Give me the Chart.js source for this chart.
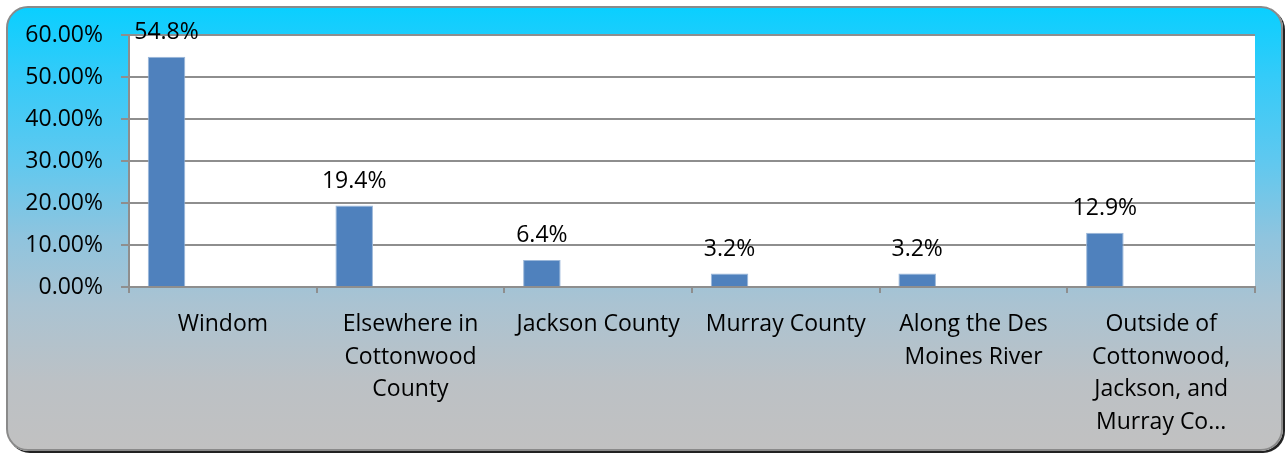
<!DOCTYPE html>
<html>
<head>
<meta charset="utf-8">
<script src="https://cdn.jsdelivr.net/npm/chart.js@4/dist/chart.umd.min.js"></script>
<style>
  html, body { margin: 0; padding: 0; background: #ffffff; }
  #wrap { position: relative; width: 1287px; height: 453px; overflow: hidden; }
  #frame {
    position: absolute; left: 6px; top: 6px; width: 1273px; height: 441px;
    border: 2px solid #8a8a8a; border-radius: 22px;
    background: linear-gradient(to bottom, #0acfff 0%, #33cbf9 15%, #60c8ef 35%, #8fc4de 52%, #aac3d2 67%, #bcc1c5 85%, #c1c1c1 100%);
    box-shadow: 2px 2px 0 #222;
  }
  #chart { position: absolute; left: 0; top: 0; }
</style>
</head>
<body>
<div id="wrap">
  <div id="frame"></div>
  <canvas id="chart" width="1287" height="453"></canvas>
</div>
<script>
// Where respondents live (share of responses)
const categories = [
  ["Windom"],
  ["Elsewhere in", "Cottonwood", "County"],
  ["Jackson County"],
  ["Murray County"],
  ["Along the Des", "Moines River"],
  ["Outside of", "Cottonwood,", "Jackson, and", "Murray Co..."]
];
const shares = [54.8, 19.4, 6.4, 3.2, 3.2, 12.9];
// The workbook's series group holds three further columns with no entries
const emptyColumns = [
  [null, null, null, null, null, null],
  [null, null, null, null, null, null],
  [null, null, null, null, null, null]
];
const yTicks = [0, 10, 20, 30, 40, 50, 60];

const FONT = "'Open Sans', 'Liberation Sans', sans-serif";
const GRID = '#8e8e8e';

const plotBackground = {
  id: 'plotBackground',
  beforeDraw(chart) {
    const { ctx, chartArea: a } = chart;
    ctx.save();
    ctx.fillStyle = '#ffffff';
    ctx.fillRect(a.left, a.top, a.right - a.left, a.bottom - a.top);
    ctx.restore();
  }
};

const valueLabels = {
  id: 'valueLabels',
  afterDatasetsDraw(chart) {
    const { ctx } = chart;
    const meta = chart.getDatasetMeta(0);
    ctx.save();
    ctx.font = '23px ' + FONT;
    ctx.fillStyle = '#000000';
    ctx.textAlign = 'center';
    ctx.textBaseline = 'alphabetic';
    meta.data.forEach((bar, i) => {
      ctx.fillText(shares[i].toFixed(1) + '%', bar.x, bar.y - 18);
    });
    ctx.restore();
  }
};

const datasets = [{
  data: shares,
  backgroundColor: '#4f81bd',
  borderColor: '#9bb7d9',
  borderWidth: 1,
  borderSkipped: 'bottom'
}].concat(emptyColumns.map(col => ({ data: col, backgroundColor: '#4f81bd' })));

new Chart(document.getElementById('chart'), {
  type: 'bar',
  data: { labels: categories, datasets },
  options: {
    responsive: false,
    animation: false,
    layout: { padding: { left: 0, right: 32, top: 35, bottom: 0 } },
    datasets: { bar: { categoryPercentage: 0.8, barPercentage: 1.0 } },
    plugins: { legend: { display: false }, tooltip: { enabled: false } },
    scales: {
      x: {
        grid: { display: true, drawOnChartArea: false, drawTicks: true, tickLength: 6, color: GRID, lineWidth: 2, offset: true },
        border: { display: true, color: GRID, width: 2 },
        ticks: {
          color: '#000000', font: { family: FONT, size: 23, lineHeight: 1.42 },
          padding: 15, maxRotation: 0, autoSkip: false
        },
        afterFit(scale) { scale.height = 453 - 287; }
      },
      y: {
        min: 0, max: 60,
        afterBuildTicks(scale) { scale.ticks = yTicks.map(v => ({ value: v })); },
        grid: { color: GRID, lineWidth: 2, tickLength: 8, drawTicks: true },
        border: { display: true, color: GRID, width: 2 },
        ticks: {
          color: '#000000', font: { family: FONT, size: 23 },
          padding: 18,
          callback: v => v.toFixed(2) + '%'
        },
        afterFit(scale) { scale.width = 129; }
      }
    }
  },
  plugins: [plotBackground, valueLabels]
});
</script>
</body>
</html>
